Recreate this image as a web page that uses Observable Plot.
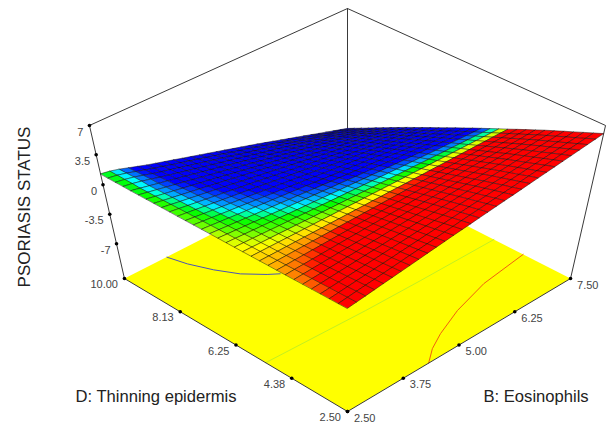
<!DOCTYPE html>
<html><head><meta charset="utf-8">
<script src="https://cdn.jsdelivr.net/npm/d3@7"></script>
<script src="https://cdn.jsdelivr.net/npm/@observablehq/plot@0.6"></script>
<style>html,body{margin:0;padding:0;background:#fff}</style></head><body><div id="c"></div>
<script>
const bTicks=[2.50,3.75,5.00,6.25,7.50];
const dTicks=[2.50,4.38,6.25,8.13,10.00];
const zTicks=[7,3.5,0,-3.5,-7];
const zFloor=-11.5;
const blueContour=[[3.39,9.99],[3.49,9.42],[3.67,8.78],[3.89,8.20],[4.18,7.73],[4.34,7.53]];
const greenContour=[[2.5,5.11],[4.56,4.99],[5.78,4.96],[7.5,4.95]];
const redContour=[[4.225,2.5],[4.54,2.83],[4.92,3.11],[5.57,3.48],[6.42,3.81],[7.5,4.0]];
// response: rows run D 2.50 -> 10.00, columns B 2.50 -> 7.50
const zGrid=[
[1.80,1.94,2.08,2.23,2.37,2.51,2.65,2.79,2.93,3.08,3.22,3.36,3.50,3.64,3.78,3.93,4.07,4.21,4.35,4.49,4.63,4.78,4.92,5.06,5.20,5.34,5.48,5.63,5.77,5.91,6.05],
[1.78,1.91,2.04,2.17,2.29,2.42,2.55,2.68,2.81,2.93,3.06,3.19,3.32,3.45,3.57,3.70,3.83,3.96,4.08,4.21,4.34,4.47,4.60,4.72,4.85,4.98,5.11,5.24,5.36,5.49,5.62],
[1.76,1.88,1.99,2.11,2.22,2.33,2.45,2.56,2.68,2.79,2.90,3.02,3.13,3.25,3.36,3.47,3.59,3.70,3.82,3.93,4.05,4.16,4.27,4.39,4.50,4.62,4.73,4.84,4.96,5.07,5.19],
[1.75,1.85,1.95,2.05,2.15,2.25,2.35,2.45,2.55,2.65,2.75,2.85,2.95,3.05,3.15,3.25,3.35,3.45,3.55,3.65,3.75,3.85,3.95,4.05,4.15,4.25,4.35,4.45,4.55,4.65,4.75],
[1.73,1.81,1.90,1.99,2.07,2.16,2.25,2.33,2.42,2.51,2.59,2.68,2.77,2.85,2.94,3.03,3.11,3.20,3.29,3.37,3.46,3.55,3.63,3.72,3.81,3.89,3.98,4.07,4.15,4.24,4.33],
[1.71,1.78,1.85,1.93,2.00,2.07,2.14,2.22,2.29,2.36,2.44,2.51,2.58,2.65,2.73,2.80,2.87,2.95,3.02,3.09,3.16,3.24,3.31,3.38,3.46,3.53,3.60,3.67,3.75,3.82,3.89],
[1.69,1.75,1.81,1.87,1.93,1.99,2.04,2.10,2.16,2.22,2.28,2.34,2.40,2.46,2.52,2.58,2.63,2.69,2.75,2.81,2.87,2.93,2.99,3.05,3.11,3.17,3.22,3.28,3.34,3.40,3.46],
[1.67,1.72,1.76,1.81,1.85,1.90,1.94,1.99,2.03,2.08,2.12,2.17,2.21,2.26,2.30,2.35,2.40,2.44,2.49,2.53,2.58,2.62,2.67,2.71,2.76,2.80,2.85,2.89,2.94,2.98,3.03],
[1.65,1.68,1.72,1.75,1.78,1.81,1.84,1.87,1.90,1.94,1.97,2.00,2.03,2.06,2.09,2.12,2.16,2.19,2.22,2.25,2.28,2.31,2.34,2.38,2.41,2.44,2.47,2.50,2.53,2.56,2.60],
[1.64,1.65,1.67,1.69,1.71,1.72,1.74,1.76,1.78,1.79,1.81,1.83,1.85,1.87,1.88,1.90,1.92,1.94,1.95,1.97,1.99,2.01,2.02,2.04,2.06,2.08,2.10,2.11,2.13,2.15,2.17],
[1.62,1.62,1.62,1.63,1.63,1.64,1.64,1.64,1.65,1.65,1.66,1.66,1.66,1.67,1.67,1.68,1.68,1.68,1.69,1.69,1.70,1.70,1.70,1.71,1.71,1.71,1.72,1.72,1.73,1.73,1.73],
[1.60,1.59,1.58,1.57,1.56,1.55,1.54,1.53,1.52,1.51,1.50,1.49,1.48,1.47,1.46,1.45,1.44,1.43,1.42,1.41,1.40,1.39,1.38,1.37,1.36,1.35,1.34,1.33,1.32,1.31,1.30],
[1.58,1.56,1.53,1.51,1.49,1.46,1.44,1.41,1.39,1.37,1.34,1.32,1.30,1.27,1.25,1.22,1.20,1.18,1.15,1.13,1.11,1.08,1.06,1.03,1.01,.99,.96,.94,.92,.89,.87],
[1.56,1.52,1.49,1.45,1.41,1.37,1.34,1.30,1.26,1.22,1.19,1.15,1.11,1.08,1.04,1.00,.96,.93,.89,.85,.81,.78,.74,.70,.66,.63,.59,.55,.51,.48,.44],
[1.54,1.49,1.44,1.39,1.34,1.29,1.24,1.18,1.13,1.08,1.03,.98,.93,.88,.83,.78,.72,.67,.62,.57,.52,.47,.42,.37,.31,.26,.21,.16,.11,.06,.01],
[1.53,1.46,1.40,1.33,1.27,1.20,1.14,1.07,1.01,.94,.88,.81,.75,.68,.62,.55,.49,.42,.36,.29,.23,.16,.10,.03,-.03,-.10,-.16,-.23,-.29,-.36,-.43],
[1.51,1.43,1.35,1.27,1.19,1.11,1.03,.96,.88,.80,.72,.64,.56,.48,.41,.33,.25,.17,.09,.01,-.07,-.15,-.22,-.30,-.38,-.46,-.54,-.62,-.70,-.78,-.85],
[1.49,1.40,1.30,1.21,1.12,1.03,.93,.84,.75,.66,.56,.47,.38,.29,.19,.10,.01,-.08,-.18,-.27,-.36,-.45,-.55,-.64,-.73,-.82,-.92,-1.01,-1.10,-1.19,-1.29],
[1.47,1.36,1.26,1.15,1.04,.94,.83,.73,.62,.51,.41,.30,.19,.09,-.02,-.12,-.23,-.34,-.44,-.55,-.66,-.76,-.87,-.98,-1.08,-1.19,-1.29,-1.40,-1.51,-1.61,-1.72],
[1.45,1.33,1.21,1.09,.97,.85,.73,.61,.49,.37,.25,.13,.01,-.11,-.23,-.35,-.47,-.59,-.71,-.83,-.95,-1.07,-1.19,-1.31,-1.43,-1.55,-1.67,-1.79,-1.91,-2.03,-2.15],
[1.43,1.30,1.17,1.03,.90,.76,.63,.50,.36,.23,.09,-.04,-.17,-.31,-.44,-.58,-.71,-.84,-.98,-1.11,-1.25,-1.38,-1.51,-1.65,-1.78,-1.91,-2.05,-2.18,-2.32,-2.45,-2.58],
[1.42,1.27,1.12,.97,.82,.68,.53,.38,.23,.09,-.06,-.21,-.36,-.51,-.65,-.80,-.95,-1.10,-1.24,-1.39,-1.54,-1.69,-1.83,-1.98,-2.13,-2.28,-2.43,-2.57,-2.72,-2.87,-3.02],
[1.40,1.24,1.07,.91,.75,.59,.43,.27,.11,-.06,-.22,-.38,-.54,-.70,-.86,-1.02,-1.19,-1.35,-1.51,-1.67,-1.83,-1.99,-2.15,-2.32,-2.48,-2.64,-2.80,-2.96,-3.12,-3.28,-3.45],
[1.38,1.20,1.03,.85,.68,.50,.33,.15,-.02,-.20,-.37,-.55,-.72,-.90,-1.08,-1.25,-1.43,-1.60,-1.78,-1.95,-2.13,-2.30,-2.48,-2.65,-2.83,-3.00,-3.18,-3.35,-3.53,-3.70,-3.88],
[1.36,1.17,.98,.79,.60,.42,.23,.04,-.15,-.34,-.53,-.72,-.91,-1.10,-1.29,-1.48,-1.66,-1.85,-2.04,-2.23,-2.42,-2.61,-2.80,-2.99,-3.18,-3.37,-3.55,-3.74,-3.93,-4.12,-4.31],
[1.34,1.14,.94,.73,.53,.33,.12,-.08,-.28,-.48,-.69,-.89,-1.09,-1.29,-1.50,-1.70,-1.90,-2.11,-2.31,-2.51,-2.71,-2.92,-3.12,-3.32,-3.53,-3.73,-3.93,-4.13,-4.34,-4.54,-4.74],
[1.32,1.11,.89,.67,.46,.24,.02,-.19,-.41,-.63,-.84,-1.06,-1.28,-1.49,-1.71,-1.93,-2.14,-2.36,-2.58,-2.79,-3.01,-3.23,-3.44,-3.66,-3.88,-4.09,-4.31,-4.53,-4.74,-4.96,-5.17],
[1.32,1.15,.93,.67,.40,.15,-.08,-.31,-.54,-.77,-1.00,-1.23,-1.46,-1.69,-1.92,-2.15,-2.38,-2.61,-2.84,-3.07,-3.30,-3.53,-3.76,-3.99,-4.22,-4.45,-4.69,-4.92,-5.15,-5.38,-5.61],
[1.31,1.14,.91,.63,.33,.07,-.18,-.42,-.67,-.91,-1.15,-1.40,-1.64,-1.89,-2.13,-2.37,-2.62,-2.86,-3.11,-3.35,-3.60,-3.84,-4.08,-4.33,-4.57,-4.82,-5.06,-5.30,-5.55,-5.79,-6.04],
[1.30,1.13,.88,.58,.27,-.02,-.28,-.54,-.79,-1.05,-1.31,-1.57,-1.83,-2.08,-2.34,-2.60,-2.86,-3.12,-3.37,-3.63,-3.89,-4.15,-4.41,-4.66,-4.92,-5.18,-5.44,-5.70,-5.95,-6.21,-6.47],
[1.30,1.12,.86,.53,.21,-.11,-.38,-.65,-.92,-1.20,-1.47,-1.74,-2.01,-2.28,-2.55,-2.83,-3.10,-3.37,-3.64,-3.91,-4.18,-4.46,-4.73,-5.00,-5.27,-5.54,-5.82,-6.09,-6.36,-6.63,-6.90]
];
const N=zGrid.length-1;
const cStops=[-7,.4,.65,.9,1.03,1.14,1.24,1.42,1.5,1.56,1.67,1.77,1.84];
const cCols=["#0000e6","#0000ff","#0050ff","#00a0ff","#00ffff","#00ff80","#00ff00","#60ff00","#c0ff00","#ffff00","#ffa000","#ff5000","#ff0000"];
const hOf=d3.scaleLinear([zFloor,-7,-3.5,0,3.5,7],[0,.2534,.456,.647,.83,1]);
const cam={c:.0859,e:-.1473,b1:-109.1/411,b2:-184.6/411};
function proj(B,Dv,z){const u=(B-2.5)/5,v=(Dv-2.5)/7.5,h=hOf(z),p=u-v,q=u+v,w=1+cam.c*q+cam.e*h;
  return {x:p/w,y:(1+cam.b1*q+cam.b2*h)/w};}
const lerp=(a,b,t)=>({x:a.x+(b.x-a.x)*t,y:a.y+(b.y-a.y)*t});
const cells=[];
for(let j=N-1;j>=0;j--)for(let i=N-1;i>=0;i--){
  const B=k=>2.5+5*k/N,Dv=k=>2.5+7.5*k/N;
  const val=(zGrid[j][i]+zGrid[j][i+1]+zGrid[j+1][i]+zGrid[j+1][i+1])/4;
  [[i,j],[i+1,j],[i+1,j+1],[i,j+1]].forEach(([a,b])=>{
    const P=proj(B(a),Dv(b),zGrid[b][a]);cells.push({...P,id:j*100+i,val});});
}
const floorPoly=[[2.5,2.5],[7.5,2.5],[7.5,10],[2.5,10]].map(([b,d])=>proj(b,d,zFloor));
const path=(arr)=>arr.map(([b,d])=>proj(b,d,zFloor));
const TL=proj(2.5,10,7),TB=proj(7.5,10,7),TR=proj(7.5,2.5,7);
const FL=proj(2.5,10,zFloor),FF=proj(2.5,2.5,zFloor),FR=proj(7.5,2.5,zFloor),FB=proj(7.5,10,zFloor);
const bPts=bTicks.map((t,i)=>({...lerp(FF,FR,i/4),label:t.toFixed(2)}));
const dPts=dTicks.map((t,i)=>({...lerp(FF,FL,i/4),label:t.toFixed(2)}));
const zPts=zTicks.map(t=>({...proj(2.5,10,t),label:String(t)}));
const X=d=>d.x,Y=d=>d.y;
const font="Liberation Sans, Arial, sans-serif";
const edge=(arr,o={})=>Plot.line(arr,{x:X,y:Y,stroke:"#3a3a3a",strokeWidth:1,...o});
const chart=Plot.plot({width:608,height:423,margin:0,
  x:{domain:[-347/242.2,261/242.2],range:[0,608],axis:null},
  y:{domain:[0,423/411],range:[0,423],axis:null},
  color:{type:"linear",domain:cStops,range:cCols,clamp:true},
  style:{background:"#fff",fontFamily:font},
  marks:[
    Plot.line(floorPoly,{x:X,y:Y,fill:"#ffff00",stroke:"none",curve:"linear-closed"}),
    Plot.line(path(blueContour),{x:X,y:Y,stroke:"#4a55b5",strokeWidth:1}),
    Plot.line(path(greenContour),{x:X,y:Y,stroke:"#c4f020",strokeWidth:1}),
    Plot.line(path(redContour),{x:X,y:Y,stroke:"#f06010",strokeWidth:1}),
    edge([FL,FF,FR]),
    edge([FL,TL,TB,TR,FR]),
    edge([FB,TB]),
    Plot.line(cells,{x:X,y:Y,z:"id",fill:"val",stroke:"#111",strokeWidth:.5,curve:"linear-closed"}),
    Plot.dot([...bPts,...dPts,...zPts],{x:X,y:Y,r:1.8,fill:"#000"}),
    Plot.text(bPts,{x:X,y:Y,text:"label",textAnchor:"start",dx:6.5,dy:6.5,fontSize:11,fill:"#444"}),
    Plot.text(dPts,{x:X,y:Y,text:"label",textAnchor:"end",dx:-6.5,dy:6,fontSize:11,fill:"#444"}),
    Plot.text(zPts,{x:X,y:Y,text:"label",textAnchor:"end",dx:-6,dy:6.5,fontSize:11,fill:"#444"}),
    Plot.text(["PSORIASIS STATUS"],{frameAnchor:"left",textAnchor:"middle",rotate:-90,dx:24,dy:-5,fontSize:17,fill:"#222"}),
    Plot.text(["D: Thinning epidermis"],{frameAnchor:"bottom-left",dx:75,dy:-22,fontSize:16.6,fill:"#222"}),
    Plot.text(["B: Eosinophils"],{frameAnchor:"bottom-left",dx:483,dy:-22,fontSize:16.6,fill:"#222"})
  ]});
document.getElementById("c").appendChild(chart);
</script></body></html>
